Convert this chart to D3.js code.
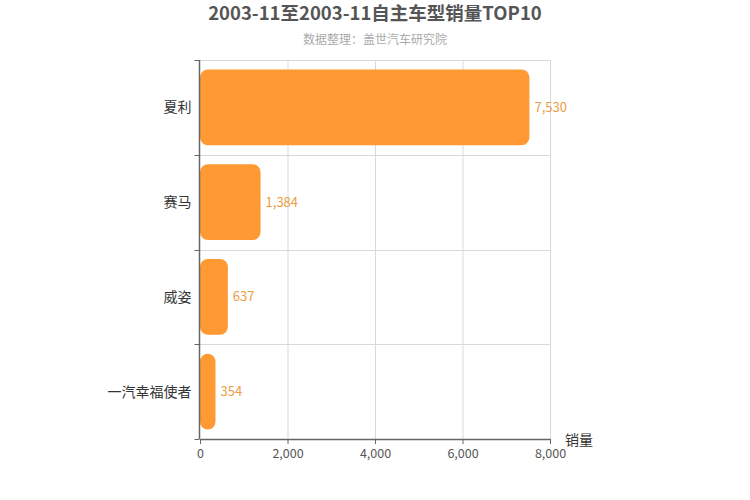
<!DOCTYPE html>
<html>
<head>
<meta charset="utf-8">
<script src="https://cdn.jsdelivr.net/npm/d3@7"></script>
<style>
  body { margin: 0; background: #fff; }
  text { font-family: "Noto Sans CJK SC", "Noto Sans", sans-serif; }
</style>
</head>
<body>
<script>
const titleText = "2003-11至2003-11自主车型销量TOP10";
const subtitleText = "数据整理：盖世汽车研究院";
const models = ["夏利", "赛马", "威姿", "一汽幸福使者"];
const sales = [7530, 1384, 637, 354];
const xTicks = [0, 2000, 4000, 6000, 8000];

const width = 750, height = 500;
const margin = { top: 60, right: 200, bottom: 61, left: 200 };

const svg = d3
  .select("body")
  .append("svg")
  .attr("width", width)
  .attr("height", height);

const x = d3.scaleLinear().domain([0, 8000]).range([margin.left, width - margin.right]);
const band = (height - margin.top - margin.bottom) / models.length;
const bounds = d3.range(models.length).map((i) => margin.top + i * band);

// vertical grid
svg
  .append("g")
  .selectAll("line")
  .data(xTicks.slice(1))
  .join("line")
  .attr("x1", (d) => x(d) + 0.5)
  .attr("x2", (d) => x(d) + 0.5)
  .attr("y1", margin.top)
  .attr("y2", height - margin.bottom)
  .attr("stroke", "#d9d9d9");

// horizontal grid at category boundaries
svg
  .append("g")
  .selectAll("line")
  .data(bounds)
  .join("line")
  .attr("x1", margin.left)
  .attr("x2", width - margin.right)
  .attr("y1", (d) => Math.round(d) + 0.5)
  .attr("y2", (d) => Math.round(d) + 0.5)
  .attr("stroke", "#d9d9d9");

// bars
svg
  .append("g")
  .selectAll("rect")
  .data(models)
  .join("rect")
  .attr("x", x(0))
  .attr("y", (d, i) => margin.top + i * band + band * 0.1)
  .attr("width", (d, i) => x(sales[i]) - x(0))
  .attr("height", band * 0.8)
  .attr("rx", 8)
  .attr("fill", "#ff9933");

// value labels
svg
  .append("g")
  .selectAll("text")
  .data(models)
  .join("text")
  .attr("x", (d, i) => x(sales[i]) + 5)
  .attr("y", (d, i) => margin.top + (i + 0.5) * band)
  .attr("dy", "0.35em")
  .attr("font-size", 13)
  .attr("fill", "#eb9d45")
  .text((d, i) => d3.format(",")(sales[i]));

// y axis
const yAxis = svg.append("g").attr("transform", `translate(${margin.left - 0.5},0)`);
yAxis
  .append("line")
  .attr("y1", margin.top)
  .attr("y2", height - margin.bottom)
  .attr("stroke", "#666")
  .attr("stroke-width", 1.5);
yAxis
  .selectAll("line.tick")
  .data(bounds.concat([height - margin.bottom]))
  .join("line")
  .attr("class", "tick")
  .attr("x1", -5)
  .attr("x2", 0)
  .attr("y1", (d) => Math.round(d) + 0.5)
  .attr("y2", (d) => Math.round(d) + 0.5)
  .attr("stroke", "#666");
yAxis
  .selectAll("text")
  .data(models)
  .join("text")
  .attr("x", -8)
  .attr("y", (d, i) => margin.top + (i + 0.5) * band)
  .attr("dy", "0.35em")
  .attr("text-anchor", "end")
  .attr("font-size", 14)
  .attr("fill", "#333")
  .text((d) => d);

// x axis
svg
  .append("g")
  .attr("transform", `translate(0,${height - margin.bottom})`)
  .call(d3.axisBottom(x).tickValues(xTicks).tickFormat(d3.format(",")).tickSize(5).tickSizeOuter(0))
  .call((g) => g.select(".domain").attr("stroke", "#666").attr("stroke-width", 1.5))
  .call((g) => g.selectAll(".tick line").attr("stroke", "#666"))
  .call((g) =>
    g
      .selectAll(".tick text")
      .attr("font-size", 12.5)
      .attr("fill", "#555")
      .attr("font-family", "'Noto Sans CJK SC', sans-serif")
      .attr("dy", "0.9em")
  );

svg
  .append("text")
  .attr("x", 565)
  .attr("y", height - margin.bottom + 6)
  .attr("font-size", 14)
  .attr("fill", "#333")
  .text("销量");

// titles
svg
  .append("text")
  .attr("x", width / 2)
  .attr("y", 20)
  .attr("text-anchor", "middle")
  .attr("font-size", 18.5)
  .attr("font-weight", "bold")
  .attr("fill", "#555")
  .text(titleText);

svg
  .append("text")
  .attr("x", width / 2)
  .attr("y", 44)
  .attr("text-anchor", "middle")
  .attr("font-size", 12)
  .attr("fill", "#aaa")
  .text(subtitleText);
</script>
</body>
</html>
